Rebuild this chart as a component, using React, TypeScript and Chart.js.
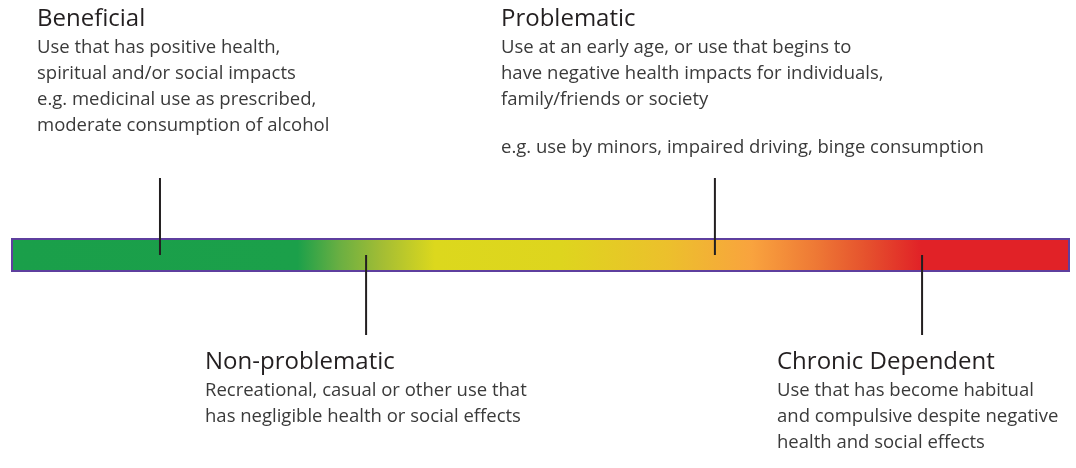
import React, { useEffect, useRef } from "react";
import { Chart, registerables } from "chart.js";

Chart.register(...registerables);

// ---- data ----
const stageNames = ["Beneficial", "Non-problematic", "Problematic", "Chronic Dependent"];
// position of each stage on the spectrum (0 = left end, 100 = right end)
const stagePositions = [14.0, 33.5, 66.5, 86.1];
const stageSides = ["above", "below", "above", "below"];
const stageDescriptions = [
  ["Use that has positive health,", "spiritual and/or social impacts"],
  ["Recreational, casual or other use that", "has negligible health or social effects"],
  ["Use at an early age, or use that begins to", "have negative health impacts for individuals,", "family/friends or society"],
  ["Use that has become habitual", "and compulsive despite negative", "health and social effects"],
];
const stageExamples = [
  ["e.g. medicinal use as prescribed,", "moderate consumption of alcohol"],
  [],
  ["e.g. use by minors, impaired driving, binge consumption"],
  [],
];
const gradientStops = [0, 27, 31, 35, 40, 52, 62, 70, 76, 81, 86, 100];
const gradientColors = [
  "#1a9f4a", "#1ba04a", "#6aaf42", "#a3bd34", "#dcd81d", "#ded51e",
  "#ecc02c", "#f9a33e", "#ee7935", "#e5502d", "#e12227", "#e12227",
];

// ---- layout (pixels on the 468-tall vertical scale) ----
const BAR_TOP = 239;
const BAR_BOTTOM = 271;
const MARKER_ABOVE_TOP = 178;
const MARKER_MID = 255;
const MARKER_BELOW_BOTTOM = 335;
const textLeft = [37, 205, 501, 777];
const textTitleY = [19, 362, 19, 362];
const exampleY = [100, 0, 148, 0];
const LINE_H = 26;
const TITLE_FONT = "24px 'Open Sans'";
const BODY_FONT = "18.5px 'Open Sans'";

const spectrumPlugin = {
  id: "spectrum",
  beforeDatasetsDraw(chart: any) {
    const { ctx, scales } = chart;
    const x0 = scales.x.getPixelForValue(0);
    const x1 = scales.x.getPixelForValue(100);
    const y0 = scales.y.getPixelForValue(BAR_TOP);
    const y1 = scales.y.getPixelForValue(BAR_BOTTOM);
    const g = ctx.createLinearGradient(x0, 0, x1, 0);
    gradientStops.forEach((s, i) => g.addColorStop(s / 100, gradientColors[i]));
    ctx.save();
    ctx.fillStyle = g;
    ctx.fillRect(x0, y0, x1 - x0, y1 - y0);
    ctx.strokeStyle = "#5e3f9e";
    ctx.lineWidth = 2;
    ctx.strokeRect(x0, y0, x1 - x0, y1 - y0);
    ctx.restore();
  },
  afterDraw(chart: any) {
    const { ctx, scales } = chart;
    ctx.save();
    ctx.textBaseline = "middle";
    ctx.textAlign = "left";
    stageNames.forEach((name, i) => {
      const x = textLeft[i];
      let y = scales.y.getPixelForValue(textTitleY[i]);
      ctx.font = TITLE_FONT;
      ctx.fillStyle = "#231f20";
      ctx.fillText(name, x, y);
      ctx.font = BODY_FONT;
      ctx.fillStyle = "#3a3a3a";
      y += 29;
      stageDescriptions[i].forEach((line) => {
        ctx.fillText(line, x, y);
        y += LINE_H;
      });
      if (stageExamples[i].length) {
        y = scales.y.getPixelForValue(exampleY[i]);
        stageExamples[i].forEach((line) => {
          ctx.fillText(line, x, y);
          y += LINE_H;
        });
      }
    });
    ctx.restore();
  },
};

export default function App() {
  const ref = useRef<HTMLCanvasElement>(null);
  useEffect(() => {
    document.body.style.margin = "0";
    const datasets = stageNames.map((name, i) => {
      const yA = stageSides[i] === "above" ? MARKER_ABOVE_TOP : MARKER_MID;
      const yB = stageSides[i] === "above" ? MARKER_MID : MARKER_BELOW_BOTTOM;
      return {
        label: name,
        data: [
          { x: stagePositions[i], y: yA },
          { x: stagePositions[i], y: yB },
        ],
        showLine: true,
        borderColor: "#231f20",
        borderWidth: 2,
        pointRadius: 0,
        fill: false,
      };
    });
    const chart = new Chart(ref.current!, {
      type: "scatter",
      data: { datasets },
      options: {
        animation: false,
        responsive: false,
        layout: { padding: { left: 12, right: 7, top: 0, bottom: 0 } },
        plugins: { legend: { display: false }, tooltip: { enabled: false } },
        scales: {
          x: { type: "linear", min: 0, max: 100, display: false },
          y: { type: "linear", min: 0, max: 468, reverse: true, display: false },
        },
      },
      plugins: [spectrumPlugin],
    } as any);
    return () => chart.destroy();
  }, []);
  return (
    <div style={{ width: 1076, height: 468, background: "#fff" }}>
      <canvas ref={ref} width={1076} height={468} />
    </div>
  );
}
